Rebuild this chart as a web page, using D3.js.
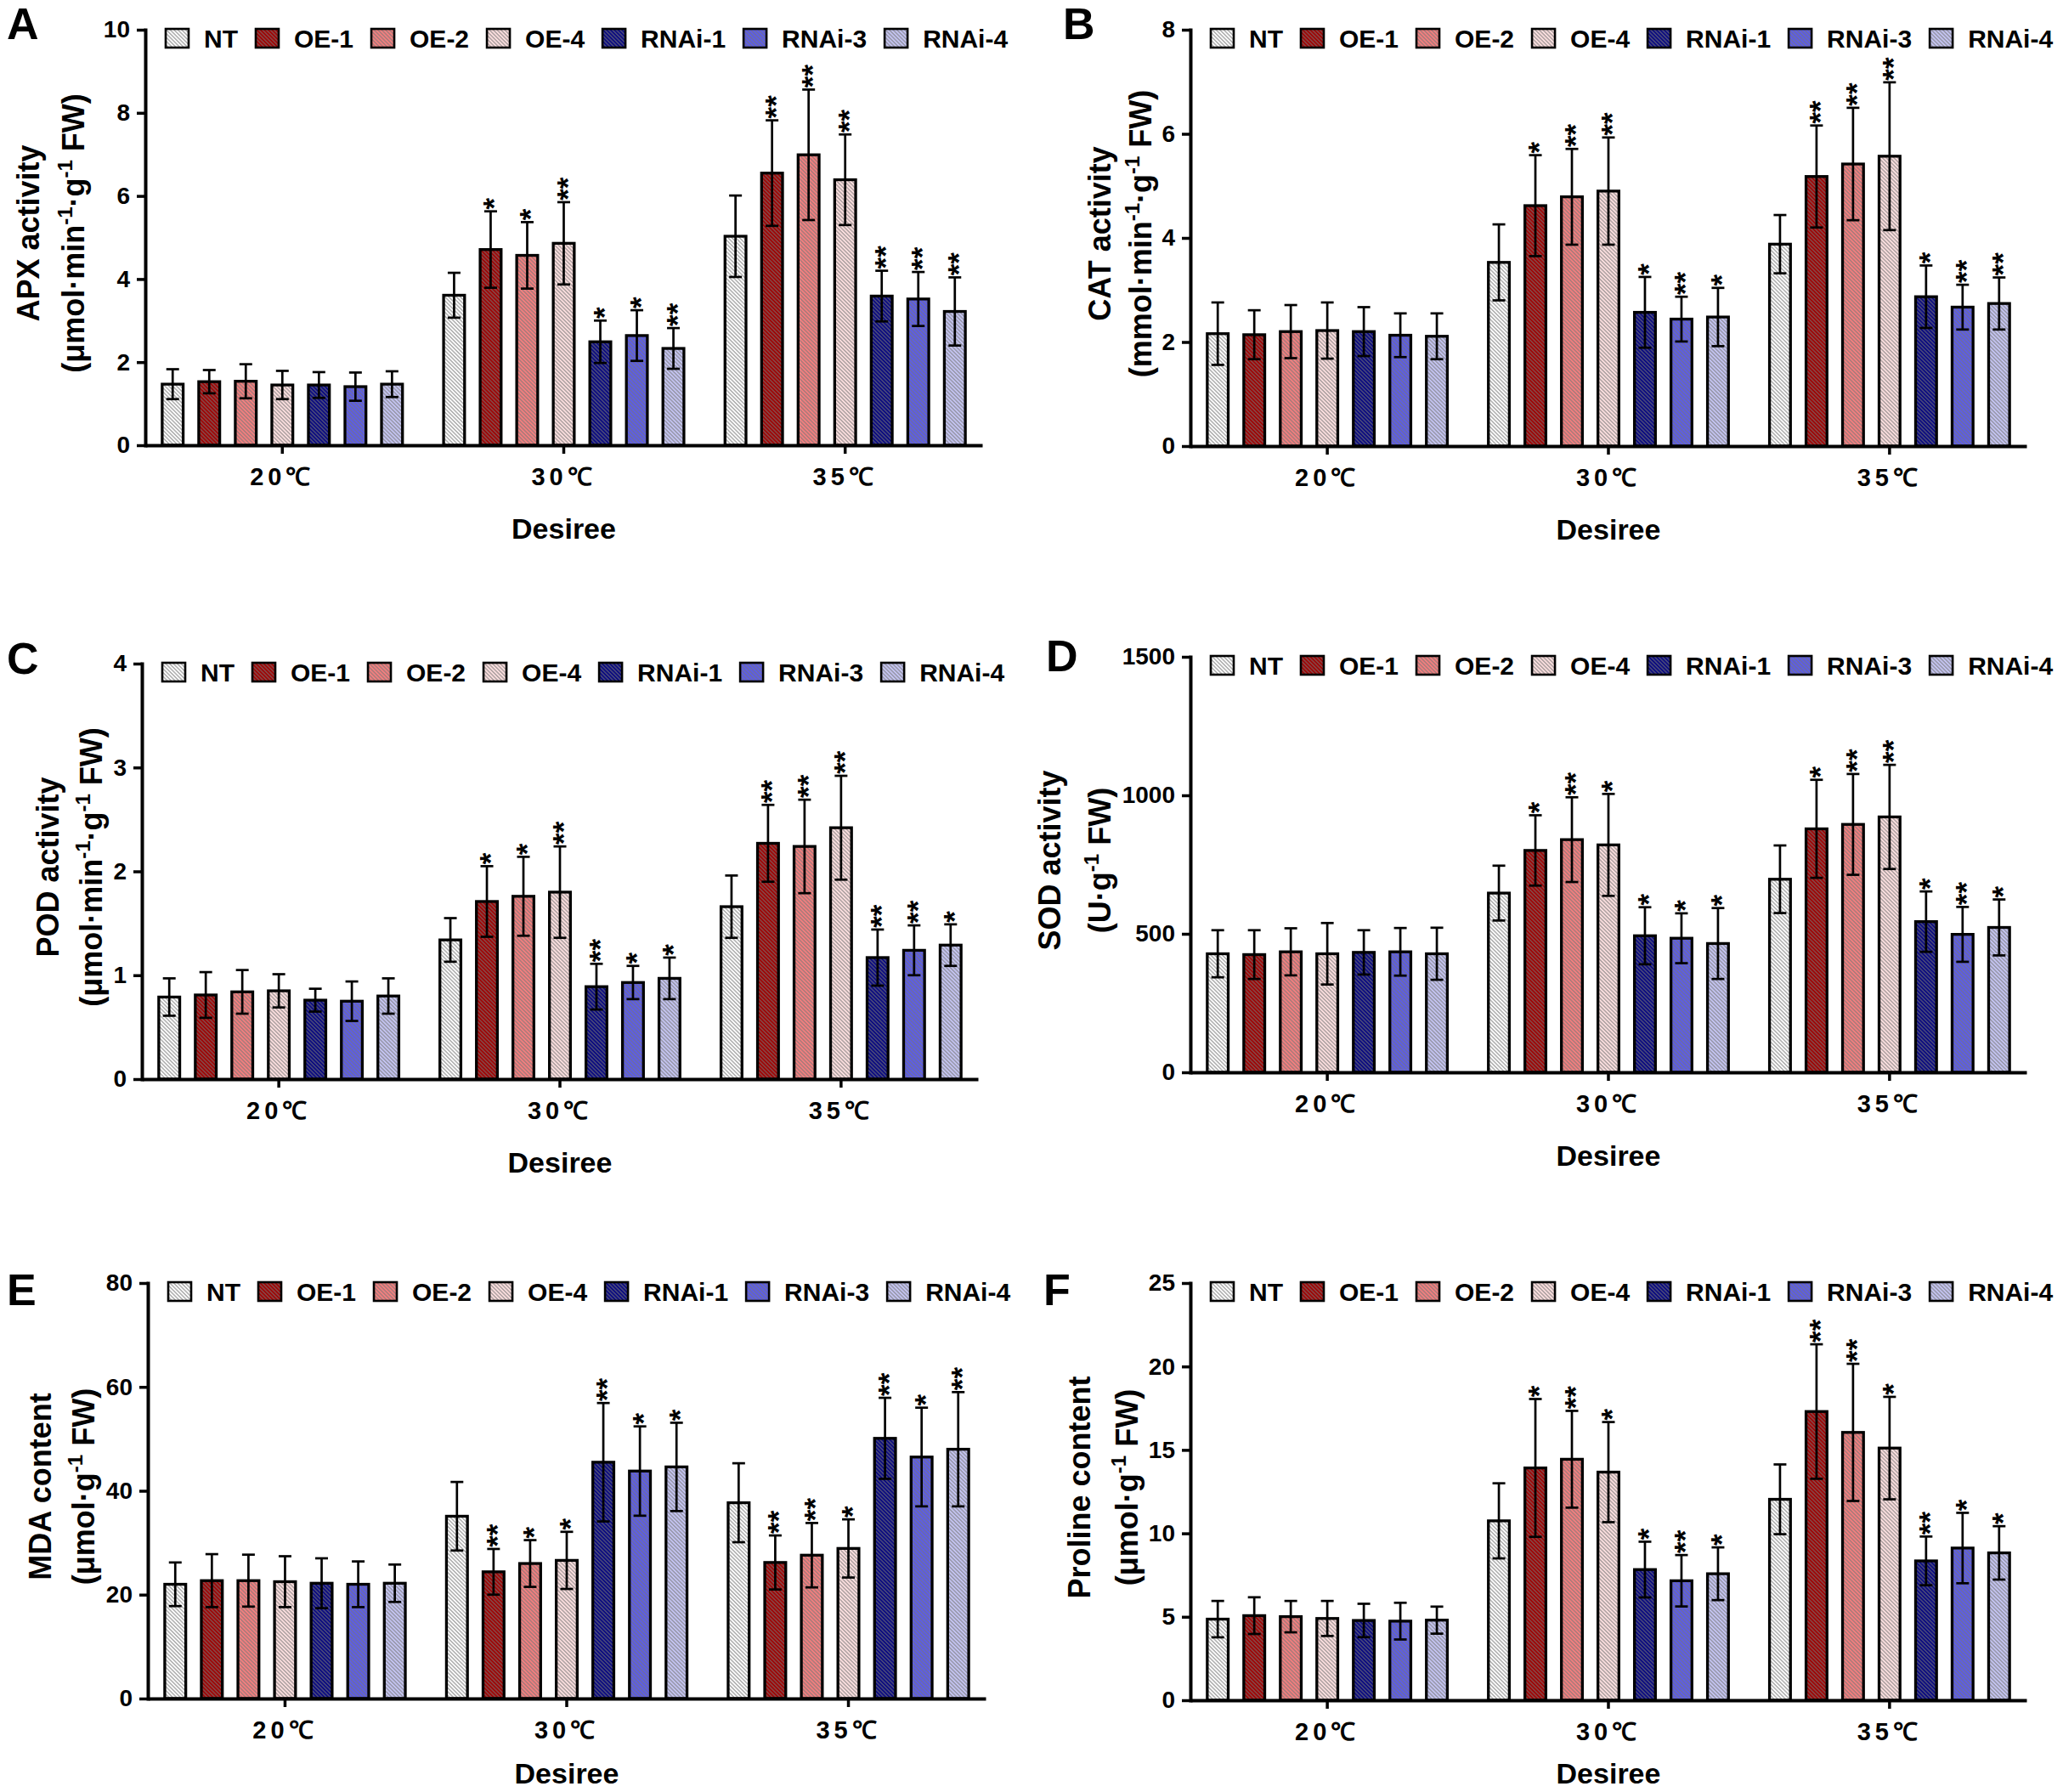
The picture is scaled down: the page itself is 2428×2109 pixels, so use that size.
<!DOCTYPE html>
<html>
<head>
<meta charset="utf-8">
<script src="https://cdn.jsdelivr.net/npm/d3@7"></script>
<style>
  body { margin: 0; background: #fff; }
  text { font-family: "Liberation Sans", Arial, sans-serif; font-weight: bold; }
</style>
</head>
<body>
<script>
// categories
const groups = ['20℃', '30℃', '35℃'];
const lines = ['NT', 'OE-1', 'OE-2', 'OE-4', 'RNAi-1', 'RNAi-3', 'RNAi-4'];
const colors = ['#ffffff', '#9e0404', '#f47f7f', '#fde0e0', '#0a0a80', '#5c5ce8', '#c5c5f3'];

// APX activity (mean, SD, significance stars) per group
const apxMean = [[1.47, 1.53, 1.54, 1.45, 1.45, 1.41, 1.47], [3.61, 4.71, 4.57, 4.86, 2.49, 2.64, 2.33], [5.03, 6.55, 6.99, 6.39, 3.59, 3.52, 3.22]];
const apxErr  = [[0.36, 0.28, 0.41, 0.34, 0.31, 0.34, 0.31], [0.54, 0.92, 0.80, 0.99, 0.51, 0.61, 0.49], [0.98, 1.27, 1.57, 1.09, 0.61, 0.65, 0.82]];
const apxSig  = [[0, 0, 0, 0, 0, 0, 0], [0, 1, 1, 2, 1, 1, 2], [0, 2, 2, 2, 2, 2, 2]];
const apxTicks = [0, 2, 4, 6, 8, 10];

// CAT activity
const catMean = [[2.16, 2.14, 2.20, 2.22, 2.20, 2.13, 2.11], [3.53, 4.62, 4.79, 4.90, 2.57, 2.44, 2.48], [3.88, 5.18, 5.42, 5.57, 2.87, 2.67, 2.74]];
const catErr  = [[0.60, 0.47, 0.51, 0.54, 0.47, 0.42, 0.44], [0.73, 0.97, 0.92, 1.03, 0.68, 0.43, 0.56], [0.56, 0.98, 1.08, 1.42, 0.60, 0.43, 0.50]];
const catSig  = [[0, 0, 0, 0, 0, 0, 0], [0, 1, 2, 2, 1, 2, 1], [0, 2, 2, 2, 1, 2, 2]];
const catTicks = [0, 2, 4, 6, 8];

// POD activity
const podMean = [[0.79, 0.81, 0.84, 0.85, 0.76, 0.75, 0.80], [1.34, 1.71, 1.76, 1.80, 0.89, 0.93, 0.97], [1.66, 2.27, 2.24, 2.42, 1.17, 1.24, 1.29]];
const podErr  = [[0.18, 0.22, 0.21, 0.16, 0.11, 0.19, 0.17], [0.21, 0.34, 0.38, 0.44, 0.22, 0.16, 0.20], [0.30, 0.37, 0.45, 0.50, 0.27, 0.24, 0.20]];
const podSig  = [[0, 0, 0, 0, 0, 0, 0], [0, 1, 1, 2, 2, 1, 1], [0, 2, 2, 2, 2, 2, 1]];
const podTicks = [0, 1, 2, 3, 4];

// SOD activity
const sodMean = [[428, 425, 435, 428, 433, 435, 428], [647, 801, 840, 821, 493, 484, 465], [697, 879, 895, 922, 544, 498, 523]];
const sodErr  = [[85, 88, 85, 111, 80, 86, 94], [99, 127, 153, 184, 103, 90, 128], [122, 177, 182, 188, 109, 99, 101]];
const sodSig  = [[0, 0, 0, 0, 0, 0, 0], [0, 1, 2, 1, 1, 1, 1], [0, 1, 2, 2, 1, 2, 1]];
const sodTicks = [0, 500, 1000, 1500];

// MDA content
const mdaMean = [[22.0, 22.7, 22.7, 22.5, 22.2, 22.0, 22.2], [35.1, 24.4, 26.0, 26.6, 45.5, 43.8, 44.6], [37.7, 26.2, 27.6, 28.9, 50.1, 46.5, 48.0]];
const mdaErr  = [[4.2, 5.1, 5.0, 4.9, 4.8, 4.4, 3.6], [6.6, 4.4, 4.5, 5.5, 11.4, 8.6, 8.5], [7.6, 5.2, 6.2, 5.6, 7.8, 9.5, 11.0]];
const mdaSig  = [[0, 0, 0, 0, 0, 0, 0], [0, 2, 1, 1, 2, 1, 1], [0, 2, 2, 1, 2, 1, 2]];
const mdaTicks = [0, 20, 40, 60, 80];

// Proline content
const proMean = [[4.86, 5.07, 5.01, 4.90, 4.78, 4.74, 4.80], [10.75, 13.92, 14.44, 13.67, 7.83, 7.16, 7.58], [12.04, 17.30, 16.05, 15.11, 8.35, 9.12, 8.83]];
const proErr  = [[1.09, 1.10, 0.94, 1.05, 1.00, 1.10, 0.81], [2.25, 4.13, 2.90, 3.00, 1.67, 1.54, 1.58], [2.09, 4.03, 4.11, 3.07, 1.46, 2.11, 1.60]];
const proSig  = [[0, 0, 0, 0, 0, 0, 0], [0, 1, 2, 1, 1, 2, 1], [0, 2, 2, 1, 2, 1, 1]];
const proTicks = [0, 5, 10, 15, 20, 25];

// panel layout
const panels = [
  {letter: 'A', lx: 8, ly: 46, x0: 171, x1: 1156, top: 35, zero: 524, t1x: 33, t2x: 86,
   title: 'APX activity', unit: [['(μmol·min'], ['-1', 1], ['·g'], ['-1', 1], [' FW)']],
   mean: apxMean, err: apxErr, sig: apxSig, ticks: apxTicks},
  {letter: 'B', lx: 1251, ly: 46, x0: 1401, x1: 2385, top: 35, zero: 525, t1x: 1294, t2x: 1342,
   title: 'CAT activity', unit: [['(mmol·min'], ['-1', 1], ['·g'], ['-1', 1], [' FW)']],
   mean: catMean, err: catErr, sig: catSig, ticks: catTicks},
  {letter: 'C', lx: 8, ly: 793, x0: 167, x1: 1151, top: 781, zero: 1270, t1x: 56, t2x: 107,
   title: 'POD activity', unit: [['(μmol·min'], ['-1', 1], ['·g'], ['-1', 1], [' FW)']],
   mean: podMean, err: podErr, sig: podSig, ticks: podTicks},
  {letter: 'D', lx: 1231, ly: 790, x0: 1401, x1: 2385, top: 773, zero: 1262, t1x: 1235, t2x: 1294,
   title: 'SOD activity', unit: [['(U·g'], ['-1', 1], [' FW)']],
   mean: sodMean, err: sodErr, sig: sodSig, ticks: sodTicks},
  {letter: 'E', lx: 8, ly: 1536, x0: 174, x1: 1160, top: 1510, zero: 1999, t1x: 47, t2x: 98,
   title: 'MDA content', unit: [['(μmol·g'], ['-1', 1], [' FW)']],
   mean: mdaMean, err: mdaErr, sig: mdaSig, ticks: mdaTicks},
  {letter: 'F', lx: 1228, ly: 1536, x0: 1401, x1: 2385, top: 1510, zero: 2001, t1x: 1270, t2x: 1326,
   title: 'Proline content', unit: [['(μmol·g'], ['-1', 1], [' FW)']],
   mean: proMean, err: proErr, sig: proSig, ticks: proTicks}
];

const svg = d3.select('body').append('svg')
    .attr('width', 2428)
    .attr('height', 2109);

svg.append('rect').attr('width', 2428).attr('height', 2109).attr('fill', '#fff');

// diagonal hatch fills
const defs = svg.append('defs');
const hs = 3.2;
colors.forEach((c, i) => {
    const p = defs.append('pattern')
        .attr('id', 'hatch' + i)
        .attr('patternUnits', 'userSpaceOnUse')
        .attr('width', hs)
        .attr('height', hs)
        .attr('patternTransform', 'rotate(-45)');
    p.append('rect').attr('width', hs).attr('height', hs).attr('fill', c);
    p.append('line')
        .attr('x1', hs / 2).attr('x2', hs / 2)
        .attr('y1', 0).attr('y2', hs)
        .attr('stroke', '#767676')
        .attr('stroke-width', 0.9);
});

panels.forEach(drawPanel);

function drawPanel(cfg) {
    const g = svg.append('g');

    const yScale = d3.scaleLinear()
        .domain([0, d3.max(cfg.ticks)])
        .range([cfg.zero, cfg.top]);
    const xGroup = d3.scaleBand()
        .domain(groups)
        .range([cfg.x0, cfg.x1])
        .paddingInner(0.146)
        .paddingOuter(0.06);
    const xLine = d3.scaleBand()
        .domain(lines)
        .range([0, xGroup.bandwidth()])
        .paddingInner(0.4256)
        .paddingOuter(0);

    const rows = [];
    groups.forEach((grp, gi) => {
        lines.forEach((ln, li) => {
            rows.push({grp, ln, li, mean: cfg.mean[gi][li], err: cfg.err[gi][li], sig: cfg.sig[gi][li]});
        });
    });

    const bw = xLine.bandwidth();

    g.selectAll('rect.bar')
        .data(rows)
        .enter()
        .append('rect')
        .attr('class', 'bar')
        .attr('x', d => xGroup(d.grp) + xLine(d.ln))
        .attr('y', d => yScale(d.mean))
        .attr('width', bw)
        .attr('height', d => yScale(0) - yScale(d.mean))
        .attr('fill', d => `url(#hatch${d.li})`)
        .attr('stroke', '#000')
        .attr('stroke-width', 3.3);

    // y axis
    const yAxis = g.append('g')
        .attr('transform', `translate(${cfg.x0},0)`)
        .call(d3.axisLeft(yScale).tickValues(cfg.ticks).tickFormat(d => String(d))
            .tickSize(10).tickSizeOuter(0).tickPadding(8));
    yAxis.select('.domain').attr('stroke-width', 4).attr('stroke-linecap', 'square');
    yAxis.selectAll('.tick line').attr('stroke-width', 3.5);
    yAxis.selectAll('.tick text')
        .attr('font-size', 28)
        .attr('font-family', '"Liberation Sans", Arial, sans-serif')
        .attr('font-weight', 'bold')
        .attr('fill', '#000');

    // x axis
    const xAxis = g.append('g')
        .attr('transform', `translate(0,${cfg.zero})`)
        .call(d3.axisBottom(xGroup).tickSize(10).tickSizeOuter(0).tickPadding(16));
    xAxis.select('.domain').attr('stroke-width', 4);
    xAxis.selectAll('.tick line').attr('stroke-width', 3.5);
    xAxis.selectAll('.tick text')
        .attr('font-size', 29)
        .attr('letter-spacing', 5)
        .attr('font-family', '"Liberation Sans", Arial, sans-serif')
        .attr('font-weight', 'bold')
        .attr('fill', '#000');

    // error bars
    const eb = g.selectAll('g.err')
        .data(rows)
        .enter()
        .append('g')
        .attr('class', 'err')
        .attr('transform', d => `translate(${xGroup(d.grp) + xLine(d.ln) + bw / 2},0)`)
        .attr('stroke', '#000')
        .attr('stroke-width', 2.7);
    eb.append('line')
        .attr('y1', d => yScale(d.mean - d.err))
        .attr('y2', d => yScale(d.mean + d.err));
    eb.append('line')
        .attr('x1', -7.5).attr('x2', 7.5)
        .attr('y1', d => yScale(d.mean + d.err))
        .attr('y2', d => yScale(d.mean + d.err));
    eb.append('line')
        .attr('x1', -7.5).attr('x2', 7.5)
        .attr('y1', d => yScale(d.mean - d.err))
        .attr('y2', d => yScale(d.mean - d.err));

    // significance stars: one string, turned upright so the asterisks stack
    const starStep = 13.6;
    rows.filter(d => d.sig > 0).forEach(d => {
        const cx = xGroup(d.grp) + xLine(d.ln) + bw / 2;
        const cy = yScale(d.mean + d.err) - 9 - starStep * (d.sig - 1) / 2;
        g.append('g')
            .attr('transform', `translate(${cx},${cy}) rotate(-90)`)
            .append('text')
            .attr('x', 0)
            .attr('y', 16)
            .attr('text-anchor', 'middle')
            .attr('font-size', 35)
            .text('*'.repeat(d.sig));
    });

    // legend
    let lx = cfg.x0 + 24;
    const ly = cfg.top + 10;
    lines.forEach((ln, i) => {
        g.append('rect')
            .attr('x', lx)
            .attr('y', ly - 11)
            .attr('width', 27)
            .attr('height', 22)
            .attr('fill', `url(#hatch${i})`)
            .attr('stroke', '#000')
            .attr('stroke-width', 2.6);
        const t = g.append('text')
            .attr('x', lx + 27 + 18)
            .attr('y', ly + 10.5)
            .attr('font-size', 30)
            .text(ln);
        lx += 27 + 18 + t.node().getComputedTextLength() + 21;
    });

    // axis titles
    const title = g.append('g')
        .attr('transform', `translate(${cfg.t1x},${(cfg.top + cfg.zero) / 2 - 5}) rotate(-90)`);
    title.append('text')
        .attr('y', 13)
        .attr('text-anchor', 'middle')
        .attr('font-family', '"DejaVu Sans", sans-serif')
        .attr('font-size', 36)
        .text(cfg.title);

    const unit = g.append('g')
        .attr('transform', `translate(${cfg.t2x},${(cfg.top + cfg.zero) / 2 - 5}) rotate(-90)`)
        .append('text')
        .attr('y', 13)
        .attr('text-anchor', 'middle')
        .attr('font-family', '"DejaVu Sans", sans-serif')
        .attr('font-size', 36);
    let up = false;
    cfg.unit.forEach(part => {
        const sup = part[1] === 1;
        const ts = unit.append('tspan').text(part[0]);
        if (sup) {
            ts.attr('font-size', 24).attr('dy', -14);
            up = true;
        } else if (up) {
            ts.attr('dy', 14);
            up = false;
        }
    });

    // x title
    g.append('text')
        .attr('x', (cfg.x0 + cfg.x1) / 2)
        .attr('y', Math.min(cfg.zero + 110, 2099))
        .attr('text-anchor', 'middle')
        .attr('font-size', 34)
        .text('Desiree');

    // panel letter
    g.append('text')
        .attr('x', cfg.lx)
        .attr('y', cfg.ly)
        .attr('font-size', 52)
        .text(cfg.letter);
}
</script>
</body>
</html>
